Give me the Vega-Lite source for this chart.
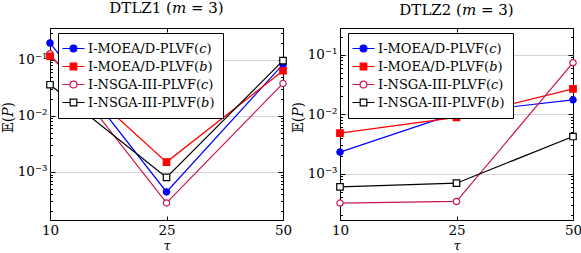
{
  "$schema": "https://vega.github.io/schema/vega-lite/v6.json",
  "padding": {"left": 0, "top": 0, "right": 0, "bottom": 0},
  "background": "white",
  "bounds": "flush",
  "spacing": 57,
  "config": {
    "view": {"stroke": "black", "strokeWidth": 1}
  },
  "datasets": {
    "d": [
      {"problem": "DTLZ1", "series": "I-MOEA/D-PLVF(c)", "tau": 10, "value": 0.2},
      {"problem": "DTLZ1", "series": "I-MOEA/D-PLVF(c)", "tau": 25, "value": 0.00044},
      {"problem": "DTLZ1", "series": "I-MOEA/D-PLVF(c)", "tau": 50, "value": 0.083},
      {"problem": "DTLZ1", "series": "I-MOEA/D-PLVF(b)", "tau": 10, "value": 0.116},
      {"problem": "DTLZ1", "series": "I-MOEA/D-PLVF(b)", "tau": 25, "value": 0.0015},
      {"problem": "DTLZ1", "series": "I-MOEA/D-PLVF(b)", "tau": 50, "value": 0.064},
      {"problem": "DTLZ1", "series": "I-NSGA-III-PLVF(c)", "tau": 10, "value": 0.128},
      {"problem": "DTLZ1", "series": "I-NSGA-III-PLVF(c)", "tau": 25, "value": 0.00028},
      {"problem": "DTLZ1", "series": "I-NSGA-III-PLVF(c)", "tau": 50, "value": 0.038},
      {"problem": "DTLZ1", "series": "I-NSGA-III-PLVF(b)", "tau": 10, "value": 0.036},
      {"problem": "DTLZ1", "series": "I-NSGA-III-PLVF(b)", "tau": 25, "value": 0.0008},
      {"problem": "DTLZ1", "series": "I-NSGA-III-PLVF(b)", "tau": 50, "value": 0.097},
      {"problem": "DTLZ2", "series": "I-MOEA/D-PLVF(c)", "tau": 10, "value": 0.0023},
      {"problem": "DTLZ2", "series": "I-MOEA/D-PLVF(c)", "tau": 25, "value": 0.0104},
      {"problem": "DTLZ2", "series": "I-MOEA/D-PLVF(c)", "tau": 50, "value": 0.0174},
      {"problem": "DTLZ2", "series": "I-MOEA/D-PLVF(b)", "tau": 10, "value": 0.0048},
      {"problem": "DTLZ2", "series": "I-MOEA/D-PLVF(b)", "tau": 25, "value": 0.0088},
      {"problem": "DTLZ2", "series": "I-MOEA/D-PLVF(b)", "tau": 50, "value": 0.0266},
      {"problem": "DTLZ2", "series": "I-NSGA-III-PLVF(c)", "tau": 10, "value": 0.00032},
      {"problem": "DTLZ2", "series": "I-NSGA-III-PLVF(c)", "tau": 25, "value": 0.00034},
      {"problem": "DTLZ2", "series": "I-NSGA-III-PLVF(c)", "tau": 50, "value": 0.073},
      {"problem": "DTLZ2", "series": "I-NSGA-III-PLVF(b)", "tau": 10, "value": 0.0006},
      {"problem": "DTLZ2", "series": "I-NSGA-III-PLVF(b)", "tau": 25, "value": 0.00069},
      {"problem": "DTLZ2", "series": "I-NSGA-III-PLVF(b)", "tau": 50, "value": 0.0042}
    ]
  },
  "hconcat": [
    {
      "width": 233, "height": 192,
      "title": {"text": "DTLZ1 (𝑚 = 3)", "font": "DejaVu Serif", "fontSize": 15, "fontWeight": "normal", "color": "black", "offset": 10},
      "data": {"name": "d"},
      "transform": [{"filter": "datum.problem === 'DTLZ1'"}],
      "encoding": {
        "x": {"field": "tau", "type": "ordinal", "scale": {"type": "point", "padding": 0, "domain": [10, 25, 50]}, "axis": null},
        "y": {"field": "value", "type": "quantitative", "scale": {"type": "log", "domain": [0.000139, 0.37], "nice": false}, "axis": null}
      },
      "layer": [
        {"mark": {"type": "line", "strokeWidth": 1.2},
          "encoding": {
            "x": {"field": "tau", "type": "ordinal", "title": "τ",
              "scale": {"type": "point", "padding": 0, "domain": [10, 25, 50]},
              "axis": {"labelAngle": 0, "tickSize": -4, "tickColor": "black", "labelPadding": 7, "titlePadding": 3, "titleFontStyle": "italic",
                "domain": false, "gridColor": "#d6d6d6", "labelFont": "DejaVu Serif", "labelFontSize": 13.5, "labelColor": "black",
                "titleFont": "DejaVu Serif", "titleFontSize": 13, "titleFontWeight": "normal", "titleColor": "black"}},
            "y": {"field": "value", "type": "quantitative", "title": "𝔼(𝑃)",
              "scale": {"type": "log", "domain": [0.000139, 0.37], "nice": false},
              "axis": {
                "values": [0.0002,0.0003,0.0004,0.0005,0.0006,0.0007,0.0008,0.0009,0.001,0.002,0.003,0.004,0.005,0.006,0.007,0.008,0.009,0.01,0.02,0.03,0.04,0.05,0.06,0.07,0.08,0.09,0.1,0.2,0.3],
                "labelExpr": "datum.value == 0.1 ? '10⁻¹' : datum.value == 0.01 ? '10⁻²' : datum.value == 0.001 ? '10⁻³' : ''",
                "tickSize": {"condition": {"test": "abs(log(datum.value)/LN10 - round(log(datum.value)/LN10)) < 0.01", "value": -5}, "value": -2.5},
                "gridOpacity": {"condition": {"test": "abs(log(datum.value)/LN10 - round(log(datum.value)/LN10)) < 0.01", "value": 1}, "value": 0},
                "labelPadding": 8, "labelOverlap": false, "tickColor": "black",
                "titleX": -42, "titleY": 89, "titleBaseline": "middle", "titleAngle": -90,
                "domain": false, "gridColor": "#d6d6d6", "labelFont": "DejaVu Serif", "labelFontSize": 13.5, "labelColor": "black",
                "titleFont": "DejaVu Serif", "titleFontSize": 14, "titleFontWeight": "normal", "titleColor": "black"
              }},
            "detail": {"field": "series"},
            "stroke": {"condition": [
              {"test": "datum.series === 'I-MOEA/D-PLVF(c)'", "value": "#0000ff"},
              {"test": "datum.series === 'I-MOEA/D-PLVF(b)'", "value": "#ff0000"},
              {"test": "datum.series === 'I-NSGA-III-PLVF(c)'", "value": "#c8174f"}], "value": "#000000"}}},
        {"transform": [{"filter": "indexof(datum.series, '(c)') >= 0"}],
          "mark": {"type": "point", "shape": "circle", "size": 40, "strokeWidth": 1.2, "opacity": 1},
          "encoding": {
            "stroke": {"condition": {"test": "datum.series === 'I-MOEA/D-PLVF(c)'", "value": "#0000ff"}, "value": "#c8174f"},
            "fill": {"condition": {"test": "datum.series === 'I-MOEA/D-PLVF(c)'", "value": "#0000ff"}, "value": "#ffffff"}}},
        {"transform": [{"filter": "indexof(datum.series, '(b)') >= 0"}],
          "mark": {"type": "point", "shape": "square", "size": 42, "strokeWidth": 1.2, "opacity": 1},
          "encoding": {
            "x": {"field": "tau", "type": "ordinal", "scale": {"type": "point", "padding": 0, "domain": [10, 25, 50]},
              "axis": {"orient": "top", "labels": false, "title": null, "grid": false, "domain": false, "tickSize": -4, "tickColor": "black"}},
            "y": {"field": "value", "type": "quantitative", "scale": {"type": "log", "domain": [0.000139, 0.37], "nice": false},
              "axis": {"orient": "right", "labels": false, "title": null, "grid": false, "domain": false, "tickColor": "black",
                "values": [0.0002,0.0003,0.0004,0.0005,0.0006,0.0007,0.0008,0.0009,0.001,0.002,0.003,0.004,0.005,0.006,0.007,0.008,0.009,0.01,0.02,0.03,0.04,0.05,0.06,0.07,0.08,0.09,0.1,0.2,0.3],
                "tickSize": {"condition": {"test": "abs(log(datum.value)/LN10 - round(log(datum.value)/LN10)) < 0.01", "value": -5}, "value": -2.5}}},
            "stroke": {"condition": {"test": "datum.series === 'I-MOEA/D-PLVF(b)'", "value": "#ff0000"}, "value": "#000000"},
            "fill": {"condition": {"test": "datum.series === 'I-MOEA/D-PLVF(b)'", "value": "#ff0000"}, "value": "#ffffff"}}},
        {"transform": [{"filter": "false"}],
          "mark": {"type": "point", "strokeWidth": 1.2, "opacity": 1},
          "encoding": {
            "stroke": {"field": "series", "type": "nominal",
              "scale": {"domain": ["I-MOEA/D-PLVF(c)", "I-MOEA/D-PLVF(b)", "I-NSGA-III-PLVF(c)", "I-NSGA-III-PLVF(b)"], "range": ["#0000ff", "#ff0000", "#c8174f", "#000000"]},
              "legend": {"orient": "none", "legendX": 8, "legendY": 5, "title": null, "padding": 8,
                "strokeColor": "black", "fillColor": "white",
                "labelFont": "DejaVu Serif", "labelFontSize": 13, "labelColor": "black",
                "symbolSize": 189, "symbolStrokeWidth": 1.2, "labelOffset": 7, "rowPadding": 3, "labelLimit": 300, "cornerRadius": 0,
                "labelExpr": "replace(replace(datum.label, '(c)', '(𝑐)'), '(b)', '(𝑏)')"}},
            "fill": {"field": "series", "type": "nominal",
              "scale": {"domain": ["I-MOEA/D-PLVF(c)", "I-MOEA/D-PLVF(b)", "I-NSGA-III-PLVF(c)", "I-NSGA-III-PLVF(b)"], "range": ["#0000ff", "#ff0000", "#ffffff", "#ffffff"]}},
            "shape": {"field": "series", "type": "nominal",
              "scale": {"domain": ["I-MOEA/D-PLVF(c)", "I-MOEA/D-PLVF(b)", "I-NSGA-III-PLVF(c)", "I-NSGA-III-PLVF(b)"],
                "range": [
                  "M-1.6,0H-0.5M0.5,0H1.6M-0.5,0A0.5,0.5,0,1,1,0.5,0A0.5,0.5,0,1,1,-0.5,0Z",
                  "M-1.6,0H-0.48M0.48,0H1.6M-0.48,-0.48H0.48V0.48H-0.48Z",
                  "M-1.6,0H-0.5M0.5,0H1.6M-0.5,0A0.5,0.5,0,1,1,0.5,0A0.5,0.5,0,1,1,-0.5,0Z",
                  "M-1.6,0H-0.48M0.48,0H1.6M-0.48,-0.48H0.48V0.48H-0.48Z"
                ]}}}}
      ],
      "resolve": {"axis": {"x": "independent", "y": "independent"}}
    },
    {
      "width": 233, "height": 192,
      "title": {"text": "DTLZ2 (𝑚 = 3)", "font": "DejaVu Serif", "fontSize": 15, "fontWeight": "normal", "color": "black", "offset": 10},
      "data": {"name": "d"},
      "transform": [{"filter": "datum.problem === 'DTLZ2'"}],
      "encoding": {
        "x": {"field": "tau", "type": "ordinal", "scale": {"type": "point", "padding": 0, "domain": [10, 25, 50]}, "axis": null},
        "y": {"field": "value", "type": "quantitative", "scale": {"type": "log", "domain": [0.000166, 0.28], "nice": false}, "axis": null}
      },
      "layer": [
        {"mark": {"type": "line", "strokeWidth": 1.2},
          "encoding": {
            "x": {"field": "tau", "type": "ordinal", "title": "τ",
              "scale": {"type": "point", "padding": 0, "domain": [10, 25, 50]},
              "axis": {"labelAngle": 0, "tickSize": -4, "tickColor": "black", "labelPadding": 7, "titlePadding": 3, "titleFontStyle": "italic",
                "domain": false, "gridColor": "#d6d6d6", "labelFont": "DejaVu Serif", "labelFontSize": 13.5, "labelColor": "black",
                "titleFont": "DejaVu Serif", "titleFontSize": 13, "titleFontWeight": "normal", "titleColor": "black"}},
            "y": {"field": "value", "type": "quantitative", "title": "𝔼(𝑃)",
              "scale": {"type": "log", "domain": [0.000166, 0.28], "nice": false},
              "axis": {
                "values": [0.0002,0.0003,0.0004,0.0005,0.0006,0.0007,0.0008,0.0009,0.001,0.002,0.003,0.004,0.005,0.006,0.007,0.008,0.009,0.01,0.02,0.03,0.04,0.05,0.06,0.07,0.08,0.09,0.1,0.2],
                "labelExpr": "datum.value == 0.1 ? '10⁻¹' : datum.value == 0.01 ? '10⁻²' : datum.value == 0.001 ? '10⁻³' : ''",
                "tickSize": {"condition": {"test": "abs(log(datum.value)/LN10 - round(log(datum.value)/LN10)) < 0.01", "value": -5}, "value": -2.5},
                "gridOpacity": {"condition": {"test": "abs(log(datum.value)/LN10 - round(log(datum.value)/LN10)) < 0.01", "value": 1}, "value": 0},
                "labelPadding": 8, "labelOverlap": false, "tickColor": "black",
                "titleX": -42, "titleY": 89, "titleBaseline": "middle", "titleAngle": -90,
                "domain": false, "gridColor": "#d6d6d6", "labelFont": "DejaVu Serif", "labelFontSize": 13.5, "labelColor": "black",
                "titleFont": "DejaVu Serif", "titleFontSize": 14, "titleFontWeight": "normal", "titleColor": "black"
              }},
            "detail": {"field": "series"},
            "stroke": {"condition": [
              {"test": "datum.series === 'I-MOEA/D-PLVF(c)'", "value": "#0000ff"},
              {"test": "datum.series === 'I-MOEA/D-PLVF(b)'", "value": "#ff0000"},
              {"test": "datum.series === 'I-NSGA-III-PLVF(c)'", "value": "#c8174f"}], "value": "#000000"}}},
        {"transform": [{"filter": "indexof(datum.series, '(c)') >= 0"}],
          "mark": {"type": "point", "shape": "circle", "size": 40, "strokeWidth": 1.2, "opacity": 1},
          "encoding": {
            "stroke": {"condition": {"test": "datum.series === 'I-MOEA/D-PLVF(c)'", "value": "#0000ff"}, "value": "#c8174f"},
            "fill": {"condition": {"test": "datum.series === 'I-MOEA/D-PLVF(c)'", "value": "#0000ff"}, "value": "#ffffff"}}},
        {"transform": [{"filter": "indexof(datum.series, '(b)') >= 0"}],
          "mark": {"type": "point", "shape": "square", "size": 42, "strokeWidth": 1.2, "opacity": 1},
          "encoding": {
            "x": {"field": "tau", "type": "ordinal", "scale": {"type": "point", "padding": 0, "domain": [10, 25, 50]},
              "axis": {"orient": "top", "labels": false, "title": null, "grid": false, "domain": false, "tickSize": -4, "tickColor": "black"}},
            "y": {"field": "value", "type": "quantitative", "scale": {"type": "log", "domain": [0.000166, 0.28], "nice": false},
              "axis": {"orient": "right", "labels": false, "title": null, "grid": false, "domain": false, "tickColor": "black",
                "values": [0.0002,0.0003,0.0004,0.0005,0.0006,0.0007,0.0008,0.0009,0.001,0.002,0.003,0.004,0.005,0.006,0.007,0.008,0.009,0.01,0.02,0.03,0.04,0.05,0.06,0.07,0.08,0.09,0.1,0.2],
                "tickSize": {"condition": {"test": "abs(log(datum.value)/LN10 - round(log(datum.value)/LN10)) < 0.01", "value": -5}, "value": -2.5}}},
            "stroke": {"condition": {"test": "datum.series === 'I-MOEA/D-PLVF(b)'", "value": "#ff0000"}, "value": "#000000"},
            "fill": {"condition": {"test": "datum.series === 'I-MOEA/D-PLVF(b)'", "value": "#ff0000"}, "value": "#ffffff"}}},
        {"transform": [{"filter": "false"}],
          "mark": {"type": "point", "strokeWidth": 1.2, "opacity": 1},
          "encoding": {
            "stroke": {"field": "series", "type": "nominal",
              "scale": {"domain": ["I-MOEA/D-PLVF(c)", "I-MOEA/D-PLVF(b)", "I-NSGA-III-PLVF(c)", "I-NSGA-III-PLVF(b)"], "range": ["#0000ff", "#ff0000", "#c8174f", "#000000"]},
              "legend": {"orient": "none", "legendX": 8, "legendY": 5, "title": null, "padding": 8,
                "strokeColor": "black", "fillColor": "white",
                "labelFont": "DejaVu Serif", "labelFontSize": 13, "labelColor": "black",
                "symbolSize": 189, "symbolStrokeWidth": 1.2, "labelOffset": 7, "rowPadding": 3, "labelLimit": 300, "cornerRadius": 0,
                "labelExpr": "replace(replace(datum.label, '(c)', '(𝑐)'), '(b)', '(𝑏)')"}},
            "fill": {"field": "series", "type": "nominal",
              "scale": {"domain": ["I-MOEA/D-PLVF(c)", "I-MOEA/D-PLVF(b)", "I-NSGA-III-PLVF(c)", "I-NSGA-III-PLVF(b)"], "range": ["#0000ff", "#ff0000", "#ffffff", "#ffffff"]}},
            "shape": {"field": "series", "type": "nominal",
              "scale": {"domain": ["I-MOEA/D-PLVF(c)", "I-MOEA/D-PLVF(b)", "I-NSGA-III-PLVF(c)", "I-NSGA-III-PLVF(b)"],
                "range": [
                  "M-1.6,0H-0.5M0.5,0H1.6M-0.5,0A0.5,0.5,0,1,1,0.5,0A0.5,0.5,0,1,1,-0.5,0Z",
                  "M-1.6,0H-0.48M0.48,0H1.6M-0.48,-0.48H0.48V0.48H-0.48Z",
                  "M-1.6,0H-0.5M0.5,0H1.6M-0.5,0A0.5,0.5,0,1,1,0.5,0A0.5,0.5,0,1,1,-0.5,0Z",
                  "M-1.6,0H-0.48M0.48,0H1.6M-0.48,-0.48H0.48V0.48H-0.48Z"
                ]}}}}
      ],
      "resolve": {"axis": {"x": "independent", "y": "independent"}}
    }
  ],
  "resolve": {"scale": {"y": "independent", "stroke": "independent", "fill": "independent", "shape": "independent"}, "legend": {"stroke": "independent", "fill": "independent", "shape": "independent"}}
}
